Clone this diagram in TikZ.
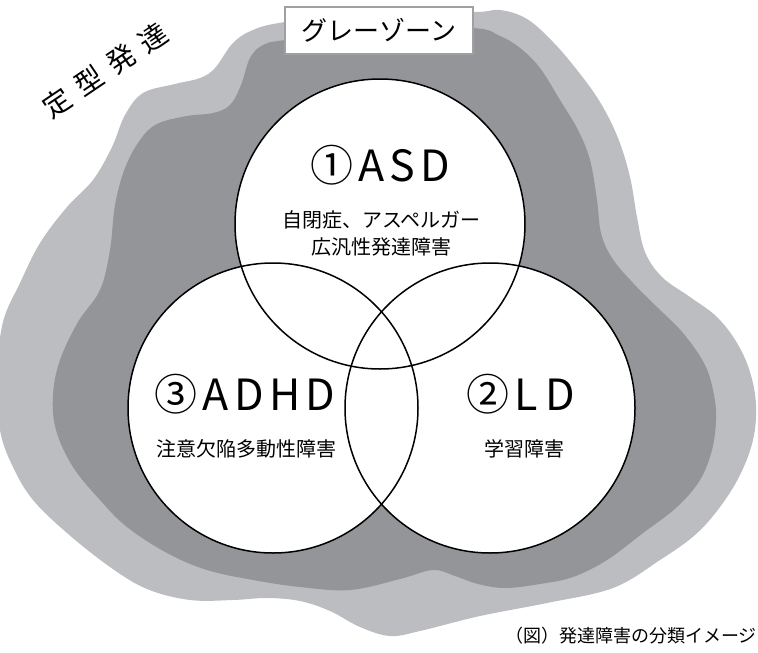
\documentclass[tikz,border=0pt]{standalone}
\usepackage{fontspec}
\setmainfont{Noto Sans CJK JP}
\newfontfamily\jpbig[LetterSpace=12]{Noto Sans CJK JP}
\newfontfamily\jptrack[LetterSpace=38]{Noto Sans CJK JP}
\definecolor{lightblob}{RGB}{188,189,193}
\definecolor{darkblob}{RGB}{148,149,153}
\definecolor{boxgray}{RGB}{160,160,160}
\tikzset{
  venn/.style={circle, fill=white, minimum size=290pt, inner sep=0pt, outer sep=0pt},
  ring/.style={line width=1.5pt, draw=black},
  bigtxt/.style={inner sep=0pt, font=\jpbig\fontsize{43pt}{46pt}\selectfont},
  subtxt/.style={inner sep=0pt, font=\fontsize{20pt}{24pt}\selectfont},
  labelbox/.style={draw=boxgray, line width=2pt, fill=white, minimum width=188pt, minimum height=47pt, inner sep=0pt, font=\fontsize{26pt}{28pt}\selectfont},
}
\begin{document}
\begin{tikzpicture}[x=1pt,y=-1pt]
\useasboundingbox (0,0) rectangle (758,653);
\begin{scope}
\clip (0,0) rectangle (758,653);
\fill[lightblob] plot[smooth cycle, tension=0.6] coordinates {
(380,10) (473,12) (500,10) (527,19) (553,42) (577,70) (600,102) (618,138) (630,177) (637,217) (645,252) (662,277) (690,297) (717,317) (737,343) (750,372) (756,405) (753,440) (740,475) (720,507) (695,535) (660,560) (613,588) (547,603) (480,616) (420,631) (390,636) (360,627) (330,611) (300,601) (267,598) (233,600) (190,600) (147,589) (110,567) (67,533) (33,500) (13,467) (0,430) (-3,375) (3,322) (20,283) (40,243) (67,207) (93,180) (112,147) (125,115) (143,93) (175,84) (200,78) (215,68) (233,43) (253,30) (285,22)};
\fill[darkblob] plot[smooth cycle, tension=0.6] coordinates {
(380,28) (473,28) (500,36) (520,48) (540,68) (560,100) (578,130) (590,160) (597,200) (601,233) (612,258) (633,283) (657,307) (683,333) (705,365) (714,395) (716,420) (712,450) (700,480) (677,507) (643,533) (607,560) (573,577) (540,584) (505,588) (478,584) (455,576) (433,570) (400,579) (350,590) (300,587) (253,580) (207,570) (167,553) (127,527) (100,500) (73,467) (56,430) (53,395) (60,360) (78,322) (100,290) (110,250) (115,205) (125,168) (140,140) (157,124) (187,116) (213,113) (230,105) (241,85) (250,58) (263,45) (285,40)};
\end{scope}
% label box
\node[labelbox] (gray) at (379,30.5) {グレーゾーン};
% circles
\node[venn] (asd) at (380,224) {};
\node[venn] (adhd) at (273,408) {};
\node[venn] (ld) at (490,408) {};
\foreach \n in {asd,adhd,ld} \draw[ring] (\n.center) circle[radius=145pt];
% texts
\node[bigtxt] (asdt) at (380,165) {①ASD};
\node[subtxt] (asd1) at (381,220) {自閉症、アスペルガー};
\node[subtxt] (asd2) at (381,247) {広汎性発達障害};
\node[bigtxt] (adhdt) at (245,394) {③ADHD};
\node[subtxt] (adhd1) at (246,449) {注意欠陥多動性障害};
\node[bigtxt] (ldt) at (521,394) {②L\hspace{8pt}D};
\node[subtxt] (ld1) at (524,449) {学習障害};
\node[inner sep=0pt, rotate=34, font=\jptrack\fontsize{28pt}{30pt}\selectfont] (teikei) at (105,70) {定型発達};
\node[anchor=east, inner sep=0pt, font=\fontsize{18pt}{20pt}\selectfont] (cap) at (757,636) {（図）発達障害の分類イメージ};
\end{tikzpicture}
\end{document}
